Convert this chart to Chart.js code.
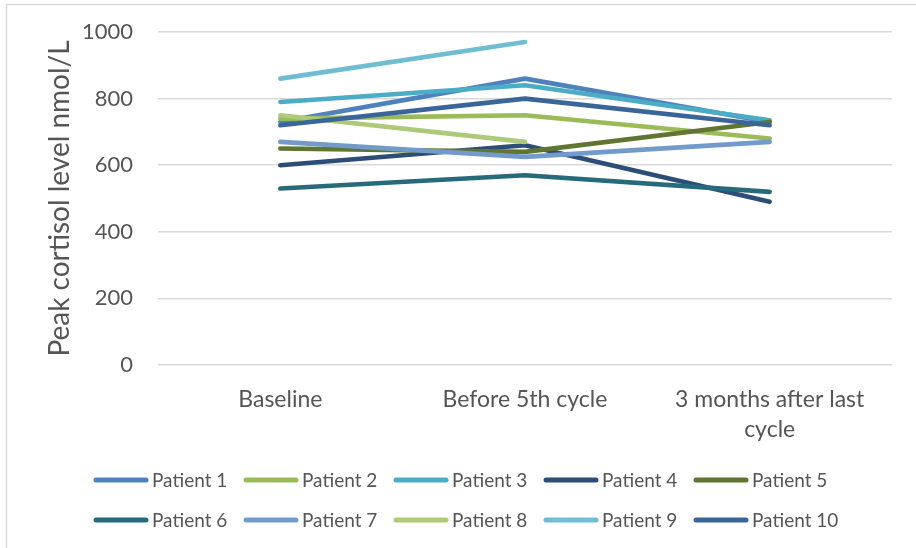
<!DOCTYPE html>
<html>
<head>
<meta charset="utf-8">
<script src="https://cdn.jsdelivr.net/npm/chart.js@4/dist/chart.umd.min.js"></script>
<style>
  html, body { margin: 0; padding: 0; background: #ffffff; }
  #wrap { position: relative; width: 916px; height: 548px; }
</style>
</head>
<body>
<div id="wrap"><canvas id="chart" width="916" height="548"></canvas></div>
<script>
// Time points on the x axis
const timePoints = ['Baseline', 'Before 5th cycle', ['3 months after last', 'cycle']];

// Peak cortisol (nmol/L) per patient at each time point
const patient1  = [730, 860, 730];
const patient2  = [740, 750, 680];
const patient3  = [790, 840, 735];
const patient4  = [600, 660, 490];
const patient5  = [650, 640, 730];
const patient6  = [530, 570, 520];
const patient7  = [670, 625, 670];
const patient8  = [750, 670, null];
const patient9  = [860, 970, null];
const patient10 = [720, 800, 720];

const seriesNames  = ['Patient 1', 'Patient 2', 'Patient 3', 'Patient 4', 'Patient 5',
                      'Patient 6', 'Patient 7', 'Patient 8', 'Patient 9', 'Patient 10'];
const seriesValues = [patient1, patient2, patient3, patient4, patient5,
                      patient6, patient7, patient8, patient9, patient10];
const seriesColors = ['#4f81bd', '#9bbb59', '#4bacc6', '#2c4d75', '#5f7530',
                      '#276a7c', '#729aca', '#afc97a', '#6fbdd1', '#3a6599'];

// Y axis ticks
const yMin = 0, yMax = 1000, yStep = 200;

const FONT = 'Lato, "Liberation Sans", sans-serif';
const TEXT = '#555555';

const datasets = seriesNames.map((name, i) => ({
  label: name,
  data: seriesValues[i],
  borderColor: seriesColors[i],
  backgroundColor: seriesColors[i],
  borderWidth: 4.6,
  borderCapStyle: 'round',
  borderJoinStyle: 'round',
  pointRadius: 0,
  pointHoverRadius: 0,
  tension: 0,
  fill: false,
  // later series are painted over earlier ones
  order: seriesNames.length - i
}));

// Outer frame around the chart
const framePlugin = {
  id: 'frame',
  beforeDraw(chart) {
    const ctx = chart.ctx;
    ctx.save();
    ctx.strokeStyle = '#d9d9d9';
    ctx.lineWidth = 1.5;
    ctx.strokeRect(6.5, 4.5, 940, 580);
    ctx.restore();
  }
};

// Two-row legend laid out in equal columns
const gridLegendPlugin = {
  id: 'gridLegend',
  afterDraw(chart) {
    const ctx = chart.ctx;
    const cols = 5, colW = 150, x0 = 94, rowY = [480, 520], lineLen = 54;
    ctx.save();
    ctx.font = '19px ' + FONT;
    ctx.textBaseline = 'middle';
    ctx.textAlign = 'left';
    chart.data.datasets.forEach((ds, i) => {
      const x = x0 + (i % cols) * colW;
      const y = rowY[Math.floor(i / cols)];
      ctx.strokeStyle = ds.borderColor;
      ctx.lineWidth = 5;
      ctx.lineCap = 'round';
      ctx.beginPath();
      ctx.moveTo(x + 2, y);
      ctx.lineTo(x + lineLen - 2, y);
      ctx.stroke();
      ctx.fillStyle = TEXT;
      ctx.fillText(ds.label, x + lineLen + 4, y + 1);
    });
    ctx.restore();
  }
};

new Chart(document.getElementById('chart'), {
  type: 'line',
  data: { labels: timePoints, datasets },
  plugins: [framePlugin, gridLegendPlugin],
  options: {
    responsive: false,
    animation: false,
    events: [],
    layout: { padding: { left: 39, top: 32, right: 24, bottom: 0 } },
    plugins: {
      legend: { display: false },
      tooltip: { enabled: false },
      title: { display: false }
    },
    scales: {
      x: {
        type: 'category',
        offset: true,
        grid: { display: false, drawTicks: false },
        border: { display: false },
        ticks: {
          color: TEXT,
          font: { family: FONT, size: 23, lineHeight: 1.3 },
          padding: 20,
          maxRotation: 0,
          autoSkip: false
        },
        afterFit(scale) { scale.height = 183; }
      },
      y: {
        min: yMin,
        max: yMax,
        grid: { color: '#d9d9d9', lineWidth: 1.5, drawTicks: false },
        border: { display: false },
        ticks: {
          stepSize: yStep,
          color: TEXT,
          font: { family: FONT, size: 22 },
          padding: 25,
          callback: (v) => String(v)
        },
        title: {
          display: true,
          text: 'Peak cortisol level nmol/L',
          color: TEXT,
          font: { family: FONT, size: 28 },
          padding: { top: 4, bottom: 4 }
        },
        afterFit(scale) {
          scale.width = 119;
          // the plot edges come from the layout padding alone
          scale.paddingTop = 0;
          scale.paddingBottom = 0;
        }
      }
    }
  }
});
</script>
</body>
</html>
